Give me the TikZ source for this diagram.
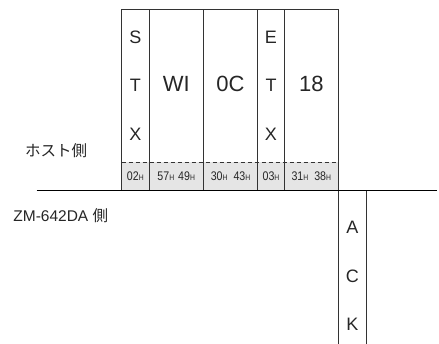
\documentclass[tikz,border=0pt]{standalone}
\usepackage{fontspec}
\setmainfont{Liberation Sans}
\newfontfamily\jpfont{Noto Sans CJK JP}
\newfontfamily\hexfont[FakeStretch=0.85]{Liberation Sans}
\newcommand{\hx}[1]{#1{\fontsize{8}{8}\selectfont H}}
\begin{document}
\begin{tikzpicture}[x=1pt, y=-1pt, line width=0.8pt,
  every node/.style={inner sep=0pt, text=black!85, font=\fontsize{18}{18}\selectfont},
  big/.style={font=\fontsize{22}{22}\selectfont},
  hex/.style={font=\hexfont\fontsize{12.5}{13}\selectfont},
  side/.style={font=\fontsize{15.5}{16}\selectfont}]
\useasboundingbox (0,0) rectangle (439,344);
% host frame
\fill[gray!20] (121.7,162.3) rectangle (338.3,190.7);
\foreach \xa/\xb in {121.7/149, 149/203.3, 203.3/257.7, 257.7/284.3, 284.3/338.3}
  \draw[black!80] (\xa,190.7) -- (\xa,9.3) -- (\xb,9.3) -- (\xb,190.7);
\draw[black!80, dash pattern=on 4pt off 3pt] (121.7,162.3) -- (338.3,162.3);
\foreach \c/\y in {S/37, T/85.5, X/134} \node (stx\c) at (135.3,\y) {\c};
\foreach \c/\y in {E/37, T/85.5, X/134} \node (etx\c) at (271,\y) {\c};
\node[big] (wi) at (176.2,84) {WI};
\node[big] (oc) at (230.5,84) {0C};
\node[big] (bcc) at (311.3,84) {18};
\node[hex] (h02) at (135.3,176.5) {\hx{02}};
\node[hex] (h5749) at (176.2,176.5) {\hx{57}\hspace{4pt}\hx{49}};
\node[hex] (h3043) at (230.5,176.5) {\hx{30}\hspace{6pt}\hx{43}};
\node[hex] (h03) at (271,176.5) {\hx{03}};
\node[hex] (h3138) at (311.3,176.5) {\hx{31}\hspace{6pt}\hx{38}};
% time line
\draw (36.7,190.7) -- (437,190.7);
\node[side, font=\jpfont\fontsize{15.5}{16}\selectfont] (host) at (56,151) {ホスト側};
\node[side, anchor=base west] (zm) at (13,221.5) {ZM-642DA {\jpfont 側}};
% answer
\draw[black!80] (338.3,190.7) -- (338.3,344);
\draw[black!80] (366,190.7) -- (366,344);
\foreach \c/\y in {A/227, C/276, K/324} \node (ack\c) at (352.3,\y) {\c};
\end{tikzpicture}
\end{document}
